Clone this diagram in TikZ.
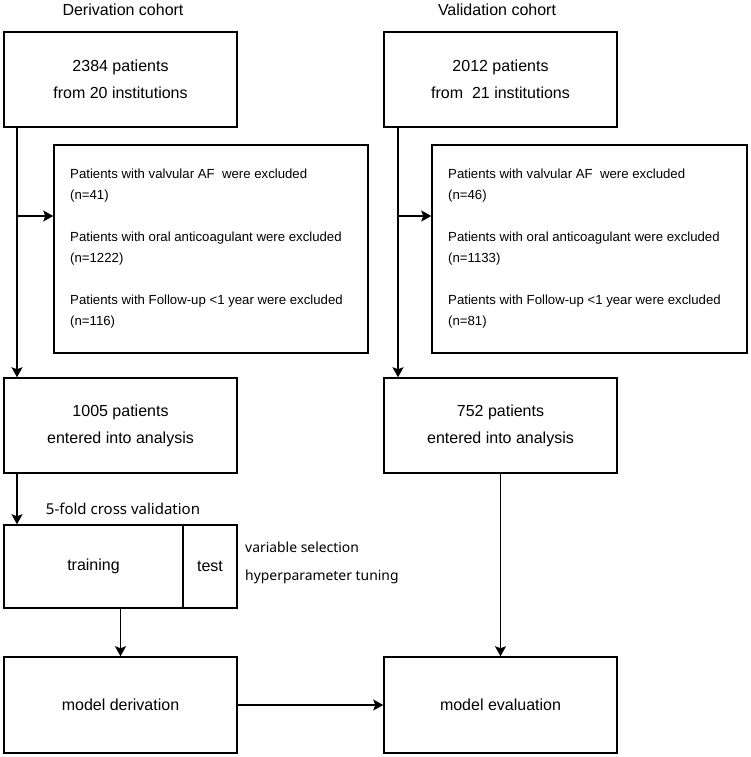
\documentclass[tikz,border=0pt]{standalone}
\usepackage{fontspec}
\setmainfont{Liberation Sans}
\newfontfamily\jfont{Noto Sans}
\usetikzlibrary{arrows.meta}
\begin{document}
\begin{tikzpicture}[x=1pt,y=-1pt,
  box/.style={draw=black,line width=1.5pt,inner sep=0pt,align=center,font=\fontsize{16}{27}\selectfont},
  title/.style={inner sep=0pt,font=\fontsize{16}{19}\selectfont},
  excl/.style={inner sep=0pt,align=left,anchor=west,font=\fontsize{13.2}{21}\selectfont},
  jlab/.style={inner sep=0pt,font=\jfont\fontsize{15}{28}\selectfont},
  jlabs/.style={inner sep=0pt,font=\jfont\fontsize{13.9}{28}\selectfont},
  arr/.style={line width=1.5pt,-{Stealth[length=10pt,width=11pt,inset=2pt]}}]
\useasboundingbox (0,0) rectangle (750,757);
% titles
\node[title] (tL) at (123,10) {Derivation cohort};
\node[title] (tR) at (497,10) {Validation cohort};
% first boxes
\node[box,minimum width=233pt,minimum height=95pt] (b1) at (120.5,79.5) {2384 patients\\from 20 institutions};
\node[box,minimum width=233pt,minimum height=95pt] (b2) at (500.5,79.5) {2012 patients\\from\ \ 21 institutions};
% exclusion boxes
\node[draw=black,line width=1.5pt,minimum width=314pt,minimum height=208pt,inner sep=0pt] (exL) at (211,249) {};
\node[draw=black,line width=1.5pt,minimum width=315pt,minimum height=208pt,inner sep=0pt] (exR) at (589.5,249) {};
\node[excl] (txL) at (70,249) {Patients with valvular AF\ \ were excluded\\(n=41)\\[21pt]Patients with oral anticoagulant were excluded\\(n=1222)\\[21pt]Patients with Follow-up <1 year were excluded\\(n=116)};
\node[excl] (txR) at (448,249) {Patients with valvular AF\ \ were excluded\\(n=46)\\[21pt]Patients with oral anticoagulant were excluded\\(n=1133)\\[21pt]Patients with Follow-up <1 year were excluded\\(n=81)};
% analysis boxes
\node[box,minimum width=233pt,minimum height=95pt] (b3) at (120.5,425.5) {1005 patients\\entered into analysis};
\node[box,minimum width=233pt,minimum height=95pt] (b4) at (500.5,425.5) {752 patients\\entered into analysis};
% cross validation
\node[jlab] (cv) at (123,509) {5-fold cross validation};
\node[box,minimum width=179pt,minimum height=83pt] (tr) at (93.5,566.5) {training};
\node[box,minimum width=54pt,minimum height=83pt] (te) at (210,566.5) {test};
\node[jlabs,align=left,anchor=west] (vs) at (245,563) {variable selection\\hyperparameter tuning};
% models
\node[box,minimum width=233pt,minimum height=96pt] (md) at (120.5,705) {model derivation};
\node[box,minimum width=233pt,minimum height=96pt] (me) at (500.5,705) {model evaluation};
% connectors
\coordinate (jL) at (17,216);
\coordinate (jR) at (398,216);
\draw[arr] (jL |- b1.south) -- (jL |- b3.north);
\draw[arr] (jL) -- (jL -| exL.west);
\draw[arr] (jR |- b2.south) -- (jR |- b4.north);
\draw[arr] (jR) -- (jR -| exR.west);
\draw[arr] (jL |- b3.south) -- (jL |- tr.north);
\draw[arr] (md.north |- tr.south) -- (md.north);
\draw[arr] (md.east) -- (me.west);
\draw[arr] (b4.south) -- (me.north);
\end{tikzpicture}
\end{document}
